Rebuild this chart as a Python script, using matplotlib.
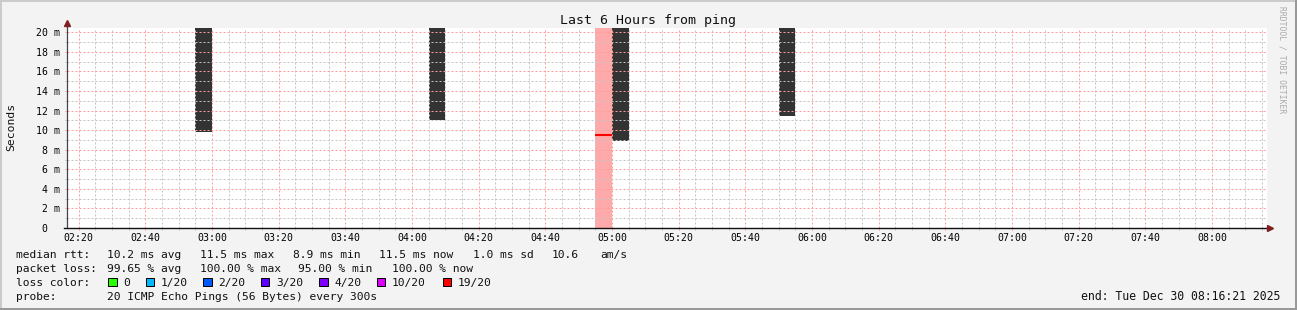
import matplotlib
matplotlib.use('Agg')
import matplotlib.pyplot as plt
import matplotlib.dates as mdates
from matplotlib.patches import Rectangle
from matplotlib.ticker import MultipleLocator, FuncFormatter
from datetime import datetime, timedelta

plt.rcParams['lines.scale_dashes'] = False

W, H = 1297, 310
MONO = 'DejaVu Sans Mono'

# time window of the graph
start = datetime(2025, 12, 30, 2, 16, 21)
end = datetime(2025, 12, 30, 8, 16, 21)
step = timedelta(minutes=5)

# smoke bars: step start and lowest rtt (ms), bars run off the top
smoke_times = ['02:55', '04:05', '05:00', '05:50']
smoke_low = [9.85, 11.05, 8.9, 11.45]
smoke_top = 25.0

# step with 19/20 loss: pink background + red median
loss_times = ['04:55']
loss_median = [9.5]

# legend
rtt_stats = ['10.2 ms avg', '11.5 ms max', '8.9 ms min', '11.5 ms now', '1.0 ms sd', '10.6']
loss_stats = ['99.65 % avg', '100.00 % max', '95.00 % min', '100.00 % now']
loss_labels = ['0', '1/20', '2/20', '3/20', '4/20', '10/20', '19/20']
loss_colors = ['#26ff00', '#00b8ff', '#0059ff', '#5e00ff', '#7e00ff', '#dd00ff', '#ff0000']


def t(hm):
    h, m = map(int, hm.split(':'))
    return datetime(2025, 12, 30, h, m)


def fx(px):
    return px / W


def fy(py):
    return 1 - py / H


fig = plt.figure(figsize=(W / 100, H / 100), dpi=100, facecolor='#f3f3f3')
ax = fig.add_axes([fx(66.5), fy(228), 1200 / W, 200 / H])
ax.set_facecolor('white')

# data
for hm, low in zip(smoke_times, smoke_low):
    ax.bar(t(hm), smoke_top - low, bottom=low, width=step / timedelta(days=1),
           align='edge', color='#333333', linewidth=0, zorder=1)
for hm, med in zip(loss_times, loss_median):
    ax.axvspan(t(hm), t(hm) + step, color='#ffaaaa', linewidth=0, zorder=1)
    ax.hlines(med, t(hm), t(hm) + step, color='#ff0000', linewidth=1.5, zorder=3)

ax.set_xlim(start, end)
ax.set_ylim(0, 20.44)

# grid
ax.xaxis.set_major_locator(mdates.MinuteLocator(byminute=[0, 20, 40]))
ax.xaxis.set_minor_locator(mdates.MinuteLocator(byminute=range(0, 60, 5)))
ax.xaxis.set_major_formatter(mdates.DateFormatter('%H:%M'))
ax.yaxis.set_major_locator(MultipleLocator(2))
ax.yaxis.set_minor_locator(MultipleLocator(1))
ax.yaxis.set_major_formatter(FuncFormatter(lambda v, p: '0  ' if v == 0 else f'{v:.0f} m'))

ax.set_axisbelow(False)
ax.grid(which='major', color='#ff9c9c', linewidth=0.72, linestyle=(0, (1.44, 1.44)))
ax.grid(which='minor', color='#c4c4c4', linewidth=0.72, linestyle=(0, (1.44, 1.44)))
ax.tick_params(which='major', length=1.5, width=0.72, color='#ff9d9d', labelsize=7.1, pad=3)
ax.tick_params(which='minor', length=1.5, width=0.72, color='#c8c8c8')
ax.tick_params(axis='x', pad=2.2)
for lab in ax.get_xticklabels() + ax.get_yticklabels():
    lab.set_family(MONO)
for s in ax.spines.values():
    s.set_visible(False)

# axes with arrows
fig.add_artist(plt.Line2D([fx(66.5), fx(66.5)], [fy(228), fy(24)], color='#444444', lw=0.9))
fig.add_artist(plt.Line2D([fx(64), fx(1268)], [fy(228.3), fy(228.3)], color='#111111', lw=1.0))
fig.add_artist(plt.Line2D([fx(66.5)], [fy(22.5)], marker='^', markersize=5, color='#7f1f1f'))
fig.add_artist(plt.Line2D([fx(1270)], [fy(228.3)], marker='>', markersize=5, color='#7f1f1f'))

# titles
fig.text(fx(648.5), fy(24.3), 'Last 6 Hours from ping', ha='center', va='baseline',
         fontsize=9.5, family=MONO, color='#111111')
fig.text(fx(10.8), fy(127.3), 'Seconds', rotation=90, ha='center', va='center',
         fontsize=8.2, family=MONO, color='#111111')
fig.text(fx(1281.7), fy(60), 'RRDTOOL / TOBI OETIKER', rotation=270, ha='center', va='center',
         fontsize=5.8, family=MONO, color='#aaaaaa')

# legend
def leg(x, y, s):
    fig.text(fx(x), fy(y), s, ha='left', va='baseline', fontsize=8.15, family=MONO, color='#111111')

leg(16, 258.3, 'median rtt:')
for x, s in zip([107.3, 200.3, 293.3, 379.3, 472.7, 551.7], rtt_stats):
    leg(x, 258.3, s)
leg(600, 258.3, 'am/s')

leg(16, 272.3, 'packet loss:')
for x, s in zip([107.3, 200.3, 298.5, 392], loss_stats):
    leg(x, 272.3, s)

leg(16, 286.3, 'loss color:')
box_x = [108.3, 145.5, 203.3, 261.0, 319.2, 376.8, 442.5]
for bx, lab, col in zip(box_x, loss_labels, loss_colors):
    fig.add_artist(Rectangle((fx(bx), fy(286.3)), 8.3 / W, 8.5 / H, transform=fig.transFigure,
                             facecolor=col, edgecolor='black', linewidth=0.72))
    leg(bx + 15, 286.3, lab)

leg(16, 300.3, 'probe:')
leg(107.3, 300.3, '20 ICMP Echo Pings (56 Bytes) every 300s')
fig.text(fx(1280), fy(300.3), 'end: Tue Dec 30 08:16:21 2025', ha='right', va='baseline',
         fontsize=8.3, family=MONO, color='#111111')

# frame shading
fig.add_artist(Rectangle((0, 1 - 2 / H), 1, 2 / H, transform=fig.transFigure, color='#cbcbcb', lw=0))
fig.add_artist(Rectangle((0, 0), 2 / W, 1, transform=fig.transFigure, color='#cbcbcb', lw=0))
fig.add_artist(Rectangle((0, 0), 1, 2 / H, transform=fig.transFigure, color='#999999', lw=0))
fig.add_artist(Rectangle((1 - 2 / W, 0), 2 / W, 1, transform=fig.transFigure, color='#999999', lw=0))

fig.savefig('out.png', dpi=100, facecolor=fig.get_facecolor())
